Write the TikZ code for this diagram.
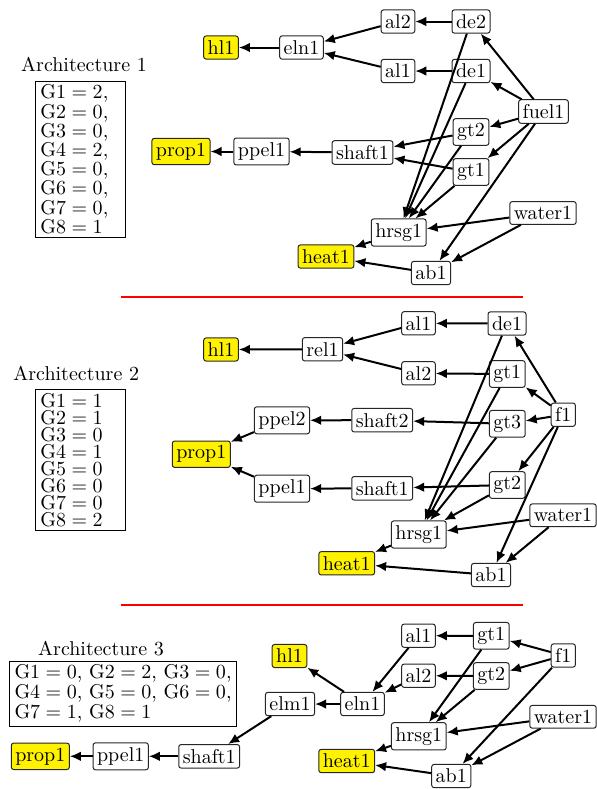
\documentclass[tikz,border=0pt]{standalone}
\usetikzlibrary{arrows.meta}
\newcommand\gv[2]{$\mathrm{G#1}=#2$}
\begin{document}
\begin{tikzpicture}[x=0.5pt,y=-0.5pt,
  blk/.style={draw=black!85,line width=0.5pt,rounded corners=1.2pt,inner xsep=2pt,inner ysep=2.3pt,fill=white},
  outbox/.style={blk,fill=yellow},
  gbox/.style={draw=black,line width=0.5pt,inner xsep=2.3pt,inner ysep=2pt,align=left,anchor=north west},
  arch/.style={anchor=base,inner sep=0pt},
  con/.style={line width=1pt,-{Latex[length=5.5pt,width=4.8pt]}},
  sep/.style={red,line width=0.6pt}]
\useasboundingbox (0,0) rectangle (597,789);

% ---------- Architecture 1 ----------
\node[arch] (Aarch) at (84,71) {Architecture 1};
\node[gbox,text width=40pt,font=\fontsize{10}{9.6}\selectfont] (Agl) at (35.3,80.7)
  {\gv12,\\\gv20,\\\gv30,\\\gv42,\\\gv50,\\\gv60,\\\gv70,\\\gv81};
\node[outbox] (Ahl) at (221,47.5) {hl1};
\node[blk] (Aeln) at (301.5,47.5) {eln1};
\node[blk] (Aal2) at (398,21.5) {al2};
\node[blk] (Ade2) at (471,21.5) {de2};
\node[blk] (Aal1) at (398,71) {al1};
\node[blk] (Ade1) at (471,71) {de1};
\node[blk] (Afuel) at (543.5,111.5) {fuel1};
\node[blk] (Agt2) at (471,132) {gt2};
\node[blk] (Agt1) at (471,172) {gt1};
\node[blk] (Ashaft) at (362.5,152.5) {shaft1};
\node[blk] (Appel) at (261.5,151.5) {ppel1};
\node[outbox] (Aprop) at (181,151.5) {prop1};
\node[blk] (Awater) at (543,213) {water1};
\node[blk] (Ahrsg) at (398.7,232.5) {hrsg1};
\node[outbox] (Aheat) at (326,256.5) {heat1};
\node[blk] (Aab) at (431,273) {ab1};

\draw[con] (Aeln) -- (Ahl);
\draw[con] (Aal2) -- (Aeln);
\draw[con] (Aal1) -- (Aeln);
\draw[con] (Ade2) -- (Aal2);
\draw[con] (Ade1) -- (Aal1);
\draw[con] (Afuel) -- (Ade2);
\draw[con] (Afuel) -- (Ade1);
\draw[con] (Afuel) -- (Agt2);
\draw[con] (Afuel) -- (Agt1);
\draw[con] (Afuel) -- (Aab);
\draw[con] (Agt2) -- (Ashaft);
\draw[con] (Agt1) -- (Ashaft);
\draw[con] (Ashaft) -- (Appel);
\draw[con] (Appel) -- (Aprop);
\draw[con] (Ade2) -- (Ahrsg);
\draw[con] (Ade1) -- (Ahrsg);
\draw[con] (Agt2) -- (Ahrsg);
\draw[con] (Agt1) -- (Ahrsg);
\draw[con] (Awater) -- (Ahrsg);
\draw[con] (Awater) -- (Aab);
\draw[con] (Ahrsg) -- (Aheat);
\draw[con] (Aab) -- (Aheat);

\draw[sep] (120.7,297) -- (523.3,297);

% ---------- Architecture 2 ----------
\node[arch] (Barch) at (76.2,380) {Architecture 2};
\node[gbox,text width=40pt,font=\fontsize{10}{8.5}\selectfont] (Bgl) at (35.3,389.3)
  {\gv11\\\gv21\\\gv30\\\gv41\\\gv50\\\gv60\\\gv70\\\gv82};
\node[outbox] (Bhl) at (221,349.5) {hl1};
\node[blk] (Brel) at (322.5,349.3) {rel1};
\node[blk] (Bal1) at (418.5,323.3) {al1};
\node[blk] (Bde1) at (507,323.5) {de1};
\node[blk] (Bal2) at (418.5,373.3) {al2};
\node[blk] (Bgt1) at (507.3,374) {gt1};
\node[blk] (Bf) at (563.3,414.7) {f1};
\node[blk] (Bgt3) at (507.3,423.8) {gt3};
\node[blk] (Bshafttwo) at (382.2,420.2) {shaft2};
\node[blk] (Bppeltwo) at (282,420.3) {ppel2};
\node[outbox] (Bprop) at (201.3,454.2) {prop1};
\node[blk] (Bppelone) at (282,488.7) {ppel1};
\node[blk] (Bshaftone) at (382.2,488.3) {shaft1};
\node[blk] (Bgt2) at (507.3,485) {gt2};
\node[blk] (Bwater) at (563,515.3) {water1};
\node[blk] (Bhrsg) at (418.8,534.5) {hrsg1};
\node[outbox] (Bheat) at (346.7,563.3) {heat1};
\node[blk] (Bab) at (491,575) {ab1};

\draw[con] (Brel) -- (Bhl);
\draw[con] (Bal1) -- (Brel);
\draw[con] (Bal2) -- (Brel);
\draw[con] (Bde1) -- (Bal1);
\draw[con] (Bgt1) -- (Bal2);
\draw[con] (Bf) -- (Bde1);
\draw[con] (Bf) -- (Bgt1);
\draw[con] (Bf) -- (Bgt3);
\draw[con] (Bf) -- (Bgt2);
\draw[con] (Bf) -- (Bab);
\draw[con] (Bgt3) -- (Bshafttwo);
\draw[con] (Bshafttwo) -- (Bppeltwo);
\draw[con] (Bppeltwo) -- (Bprop);
\draw[con] (Bgt2) -- (Bshaftone);
\draw[con] (Bshaftone) -- (Bppelone);
\draw[con] (Bppelone) -- (Bprop);
\draw[con] (Bde1) -- (Bhrsg);
\draw[con] (Bgt1) -- (Bhrsg);
\draw[con] (Bgt3) -- (Bhrsg);
\draw[con] (Bgt2) -- (Bhrsg);
\draw[con] (Bwater) -- (Bhrsg);
\draw[con] (Bwater) -- (Bab);
\draw[con] (Bhrsg) -- (Bheat);
\draw[con] (Bab) -- (Bheat);

\draw[sep] (120.7,605) -- (523.3,605);

% ---------- Architecture 3 ----------
\node[arch] (Carch) at (101,655) {Architecture 3};
\node[gbox,inner xsep=2.5pt,font=\fontsize{10}{9.9}\selectfont] (Cgl) at (9,660.5)
  {\gv10, \gv22, \gv30,\\\gv40, \gv50, \gv60,\\\gv71, \gv81};
\node[outbox] (Cprop) at (40.3,756.3) {prop1};
\node[blk] (Cppel) at (120.7,756.3) {ppel1};
\node[blk] (Cshaft) at (209.2,756.3) {shaft1};
\node[blk] (Celm) at (290,704) {elm1};
\node[outbox] (Chl) at (289.5,656) {hl1};
\node[blk] (Celn) at (362.5,704) {eln1};
\node[blk] (Cal1) at (418.5,635.7) {al1};
\node[blk] (Cgt1) at (491.3,635.8) {gt1};
\node[blk] (Cal2) at (418.5,675.7) {al2};
\node[blk] (Cgt2) at (491.3,676) {gt2};
\node[blk] (Cf) at (563.3,655.5) {f1};
\node[blk] (Cwater) at (563,716.8) {water1};
\node[blk] (Chrsg) at (418.8,736.3) {hrsg1};
\node[outbox] (Cheat) at (346.7,761) {heat1};
\node[blk] (Cab) at (451.3,776) {ab1};

\draw[con] (Cgt1) -- (Cal1);
\draw[con] (Cgt2) -- (Cal2);
\draw[con] (Cf) -- (Cgt1);
\draw[con] (Cf) -- (Cgt2);
\draw[con] (Cf) -- (Cab);
\draw[con] (Cal1) -- (Celn);
\draw[con] (Cal2) -- (Celn);
\draw[con] (Celn) -- (Chl);
\draw[con] (Celn) -- (Celm);
\draw[con] (Celm) -- (Cshaft);
\draw[con] (Cshaft) -- (Cppel);
\draw[con] (Cppel) -- (Cprop);
\draw[con] (Cgt1) -- (Chrsg);
\draw[con] (Cgt2) -- (Chrsg);
\draw[con] (Cwater) -- (Chrsg);
\draw[con] (Cwater) -- (Cab);
\draw[con] (Chrsg) -- (Cheat);
\draw[con] (Cab) -- (Cheat);
\end{tikzpicture}
\end{document}
